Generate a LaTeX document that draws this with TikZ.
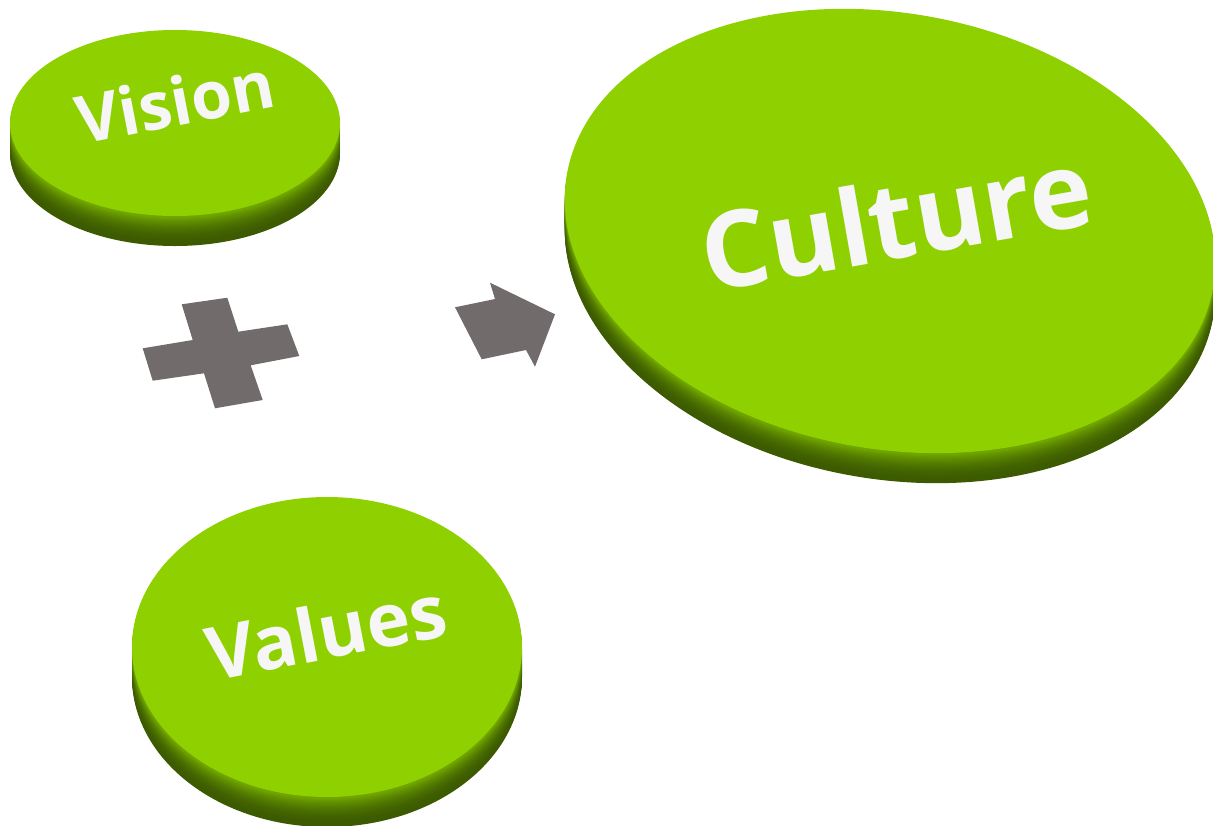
\documentclass[tikz,border=0pt]{standalone}
\usepackage{fontspec}
\setmainfont{Open Sans}
\definecolor{facegreen}{RGB}{143,208,0}
\definecolor{rimlight}{RGB}{112,165,0}
\definecolor{rimdark}{RGB}{60,90,0}
\definecolor{signgray}{RGB}{113,108,107}
\definecolor{txtwhite}{RGB}{246,246,246}
\tikzset{
  disclabel/.style={text=txtwhite, inner sep=0pt, font=\bfseries},
  signshape/.style={fill=signgray, draw=none},
}
% #1 center x, #2 center y, #3 rx, #4 ry, #5 rotation, #6 thickness
\newcommand{\mydisc}[6]{%
  \foreach \k in {0,...,24}{%
    \pgfmathsetmacro{\off}{2+(#6-2)*(1-\k/24)}%
    \pgfmathsetmacro{\mix}{100*(\k/24)^2}%
    \fill[rimlight!\mix!rimdark] (#1,#2+\off) ellipse [x radius=#3*0.5pt, y radius=#4*0.5pt, rotate=#5];
  }%
  \fill[facegreen] (#1,#2) ellipse [x radius=#3*0.5pt, y radius=#4*0.5pt, rotate=#5];
}
\begin{document}
\begin{tikzpicture}[x=0.5pt,y=-0.5pt]
\useasboundingbox (0,0) rectangle (1213,825);
% discs
\mydisc{175}{123}{165}{93}{0}{30}
\mydisc{327}{647}{195}{150}{0}{30}
\mydisc{890}{231}{328}{218}{-10}{30}
% plus sign
\fill[signshape] (181.7,304.3) -- (227.3,297.7) -- (238.3,331.7) -- (287.3,324.3)
  -- (299.3,356) -- (250.7,365.3) -- (262.7,400) -- (215,408.3) -- (204,373.3)
  -- (152.7,380.7) -- (142.7,348.3) -- (192.7,340) -- cycle;
% arrow
\fill[signshape] (455,307.3) -- (495,299) -- (490,282.7) -- (555,314.3)
  -- (535,366.7) -- (526,350) -- (481.7,359.3) -- cycle;
% labels
\node[disclabel, font=\bfseries\fontsize{33}{33}\selectfont, rotate=11] (vision) at (175,101) {Vision};
\node[disclabel, font=\bfseries\fontsize{37}{37}\selectfont, rotate=11] (values) at (326,631) {Values};
\node[disclabel, font=\bfseries\fontsize{53}{53}\selectfont, rotate=10] (culture) at (896,219) {Culture};
\end{tikzpicture}
\end{document}
